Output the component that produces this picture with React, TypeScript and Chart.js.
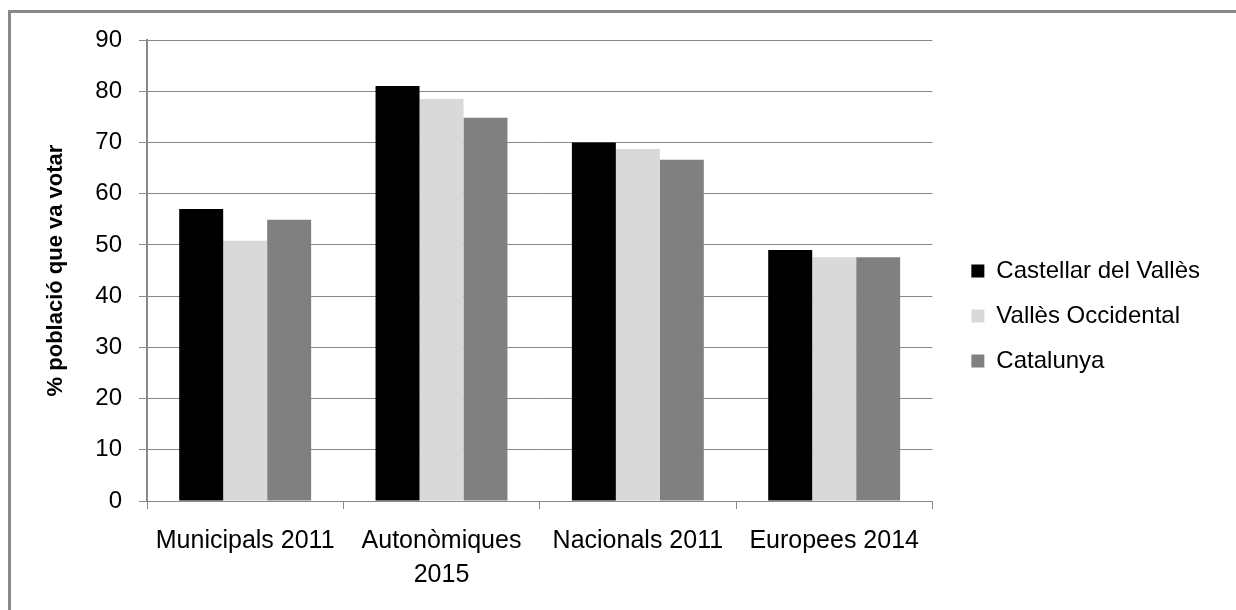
import React, { useEffect, useRef } from "react";
import { Chart, registerables } from "chart.js";

Chart.register(...registerables);

// Election categories (multi-line tick labels)
const categories: string[][] = [
  ["Municipals 2011"],
  ["Autonòmiques", "2015"],
  ["Nacionals 2011"],
  ["Europees 2014"],
];

const seriesNames = ["Castellar del Vallès", "Vallès Occidental", "Catalunya"];

// % of population that voted
const castellar = [57.0, 81.0, 70.0, 49.0];
const vallesOccidental = [50.8, 78.5, 68.7, 47.6];
const catalunya = [54.9, 74.8, 66.6, 47.6];

const seriesColors = ["#000000", "#D9D9D9", "#808080"];

const yTicks = [0, 10, 20, 30, 40, 50, 60, 70, 80, 90];

const FONT = "'Liberation Sans', Arial, Helvetica, sans-serif";
const GRID = "#888888";

// White page with the grey frame at top and left edges
const framePlugin = {
  id: "frame",
  beforeDraw(chart: Chart) {
    const { ctx, width, height } = chart;
    ctx.save();
    ctx.fillStyle = "#ffffff";
    ctx.fillRect(0, 0, width, height);
    ctx.strokeStyle = "#898989";
    ctx.lineWidth = 3;
    ctx.beginPath();
    ctx.moveTo(9.5, height);
    ctx.lineTo(9.5, 11.5);
    ctx.lineTo(width, 11.5);
    ctx.stroke();
    ctx.restore();
  },
};

// Place the legend block a little away from the plot area
const legendPlacement = {
  id: "legendPlacement",
  afterLayout(chart: Chart) {
    const lg: any = chart.legend;
    if (!lg) return;
    const w = lg.width;
    const h = lg.height;
    lg.left = chart.chartArea.right + 18;
    lg.right = lg.left + w;
    lg.top = 238;
    lg.bottom = lg.top + h;
  },
};

export default function App() {
  const canvasRef = useRef<HTMLCanvasElement | null>(null);

  useEffect(() => {
    document.body.style.margin = "0";
    const canvas = canvasRef.current;
    if (!canvas) return;
    const data = [castellar, vallesOccidental, catalunya];
    const chart = new Chart(canvas, {
      type: "bar",
      data: {
        labels: categories,
        datasets: seriesNames.map((name, i) => ({
          label: name,
          data: data[i],
          backgroundColor: seriesColors[i],
          borderColor: seriesColors[i],
          borderWidth: 0,
          categoryPercentage: 0.672,
          barPercentage: 1,
        })),
      },
      options: {
        responsive: false,
        animation: false,
        devicePixelRatio: 1,
        layout: { padding: { left: 30, top: 40, bottom: 20, right: 44 } },
        plugins: {
          tooltip: { enabled: false },
          title: { display: false },
          legend: {
            position: "right",
            align: "start",
            labels: {
              boxWidth: 13,
              boxHeight: 13,
              padding: 21,
              color: "#000000",
              font: { family: FONT, size: 24 },
            },
          },
        },
        scales: {
          x: {
            grid: {
              display: true,
              drawOnChartArea: false,
              drawTicks: true,
              tickLength: 8,
              offset: true,
              color: GRID,
              lineWidth: 1,
            },
            border: { display: true, color: GRID, width: 1 },
            ticks: {
              color: "#000000",
              font: { family: FONT, size: 25, lineHeight: 1.36 },
              padding: 15,
              autoSkip: false,
              maxRotation: 0,
            },
            afterFit(scale: any) {
              scale.height = 89;
            },
          },
          y: {
            min: 0,
            max: 90,
            afterBuildTicks(scale: any) {
              scale.ticks = yTicks.map((v) => ({ value: v }));
            },
            grid: {
              color: GRID,
              lineWidth: 1,
              drawTicks: true,
              tickLength: 8,
            },
            border: { display: true, color: GRID, width: 2 },
            ticks: {
              color: "#000000",
              font: { family: FONT, size: 24 },
              padding: 17,
            },
            title: {
              display: true,
              text: "% població que va votar",
              color: "#000000",
              font: { family: FONT, size: 22, weight: "bold" },
              padding: { top: 13, bottom: 0 },
            },
            afterFit(scale: any) {
              scale.width = 117;
            },
          },
        },
      },
      plugins: [framePlugin, legendPlacement],
    });
    return () => chart.destroy();
  }, []);

  return (
    <div style={{ position: "absolute", left: 0, top: 0, width: 1236, height: 610 }}>
      <canvas ref={canvasRef} width={1236} height={610} />
    </div>
  );
}
